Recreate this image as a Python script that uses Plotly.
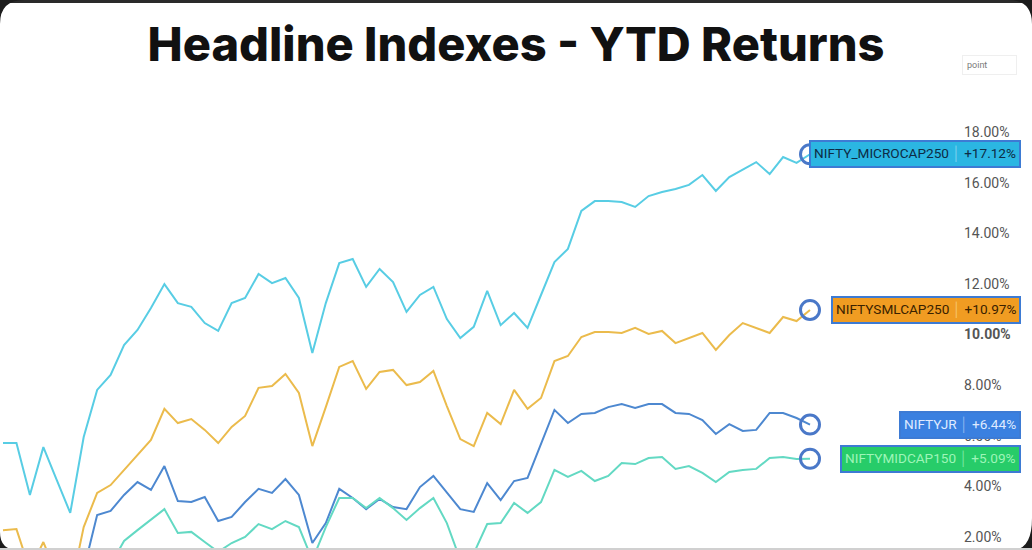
import plotly.graph_objects as go

# ---------------- data (YTD return, %) ----------------
series_names = ["NIFTY_MICROCAP250", "NIFTYSMLCAP250", "NIFTYJR", "NIFTYMIDCAP150"]

microcap = [5.71, 5.71, 3.66, 5.55, 4.25, 2.95, 5.95, 7.81, 8.40, 9.58,
            10.18, 11.05, 11.99, 11.24, 11.09, 10.45, 10.14, 11.24, 11.44, 12.39,
            12.03, 12.23, 11.44, 9.27, 11.24, 12.82, 12.98, 11.88, 12.59, 12.07,
            10.89, 11.56, 11.88, 10.61, 9.86, 10.30, 11.72, 10.37, 10.85, 10.26,
            11.56, 12.86, 13.38, 14.88, 15.27, 15.27, 15.23, 15.04, 15.47, 15.63,
            15.75, 15.91, 16.30, 15.67, 16.22, 16.50, 16.81, 16.34, 17.01, 16.78,
            17.12]

smallcap = [2.27, 2.31, 0.69, 1.80, 0.50, -0.14, 2.39, 3.74, 4.05, 4.65,
            5.24, 5.83, 7.06, 6.50, 6.66, 6.23, 5.71, 6.35, 6.78, 7.89,
            7.96, 8.44, 7.69, 5.59, 7.13, 8.72, 8.95, 7.85, 8.52, 8.60,
            8.00, 8.12, 8.56, 7.17, 5.87, 5.59, 6.90, 6.46, 7.81, 7.06,
            7.49, 8.95, 9.15, 9.90, 10.10, 10.10, 10.06, 10.26, 10.02, 10.14,
            9.66, 9.86, 10.06, 9.39, 9.98, 10.45, 10.26, 10.06, 10.69, 10.53,
            10.97]

niftyjr = [0.90, 0.80, 0.20, 0.60, 0.40, -0.30, 0.70, 2.87, 3.03, 3.66,
           4.17, 3.86, 4.80, 3.42, 3.38, 3.58, 2.63, 2.79, 3.38, 3.90,
           3.74, 4.29, 3.66, 1.76, 2.55, 3.90, 3.54, 3.10, 3.50, 3.18,
           3.10, 3.97, 4.41, 3.74, 3.10, 2.99, 4.13, 3.46, 4.21, 4.33,
           5.71, 7.02, 6.50, 6.86, 6.90, 7.13, 7.25, 7.10, 7.25, 7.25,
           6.90, 6.86, 6.62, 6.07, 6.46, 6.19, 6.23, 6.90, 6.90, 6.70,
           6.44]

midcap = [0.30, 0.20, -0.40, 0.10, -0.20, -0.90, 0.00, 0.50, 0.90, 1.84,
          2.27, 2.67, 3.10, 2.16, 2.20, 1.80, 1.41, 1.76, 2.00, 2.51,
          2.31, 2.63, 2.39, 1.09, 2.39, 3.54, 3.54, 3.14, 3.54, 3.14,
          2.67, 3.14, 3.54, 2.55, 1.09, 1.35, 2.51, 2.55, 3.34, 2.95,
          3.38, 4.65, 4.37, 4.61, 4.21, 4.41, 4.92, 4.88, 5.12, 5.16,
          4.69, 4.80, 4.53, 4.17, 4.57, 4.65, 4.69, 5.12, 5.16, 5.08,
          5.09]

tick_vals = [2, 4, 6, 8, 10, 12, 14, 16, 18]
tick_text = ["2.00%", "4.00%", "6.00%", "8.00%", "<b>10.00%</b>",
             "12.00%", "14.00%", "16.00%", "18.00%"]

# ---------------- style ----------------
all_series = [microcap, smallcap, niftyjr, midcap]
line_colors = ["#58cde4", "#ebbb4c", "#4d88d0", "#63d9c3"]
label_bg = ["#2bb6e2", "#f09c22", "#3a80e0", "#27cc69"]
label_fg = ["#0d2b45", "#3a2200", "#dfeaff", "#9ef5b8"]
sep_fg = ["#7fd3ef", "#f7c670", "#8db6ef", "#79e6a3"]
frame_col = "#3d7bd4"

W, H = 1032, 550
L, R, T, B = 0, 69, 100, 0
PW, PH = W - L - R, H - T - B
STEP = 13.45      # px between consecutive sessions
X0 = 3.0          # px position of first session


def px(x):
    return (x - L) / PW


def py(y):
    return (H - B - y) / PH


n = len(microcap)
xs = list(range(n))

fig = go.Figure()
for vals, name, col in zip(all_series, series_names, line_colors):
    fig.add_trace(go.Scatter(x=xs, y=vals, mode="lines", name=name,
                             line=dict(color=col, width=2), showlegend=False,
                             hoverinfo="skip"))

# end-point circles
fig.add_trace(go.Scatter(
    x=[xs[-1]] * len(all_series), y=[s[-1] for s in all_series], mode="markers",
    marker=dict(symbol="circle-open", size=19, line=dict(width=3, color="#4a78c8"),
                color="#4a78c8"),
    showlegend=False, hoverinfo="skip", cliponaxis=False))

# end labels
for vals, name, bg, fg, sc in zip(all_series, series_names, label_bg, label_fg, sep_fg):
    txt = f"{name} <span style='color:{sc}'>│</span> {vals[-1]:+.2f}%"
    fig.add_annotation(x=px(1021), xref="paper", y=vals[-1], yref="y",
                       xanchor="right", yanchor="middle", text=txt, showarrow=False,
                       font=dict(family="Roboto, Liberation Sans, sans-serif", size=13.6, color=fg),
                       bgcolor=bg, bordercolor=frame_col, borderwidth=2, borderpad=3)

# "point" box
fig.add_annotation(x=px(962), xref="paper", y=py(65), yref="paper", xanchor="left",
                   yanchor="middle", text="point           ", showarrow=False,
                   font=dict(family="Roboto, sans-serif", size=9, color="#7a7a7a"),
                   bgcolor="white", bordercolor="#efefef", borderwidth=1, borderpad=4,
                   align="left")

# screenshot frame: dark top edge and rounded corners
shapes = []
shapes.append(dict(type="rect", xref="paper", yref="paper", x0=px(0), x1=px(W),
                   y0=py(0), y1=py(3), fillcolor="#2a2a2a", line=dict(width=0), layer="above"))
r = 24
corner_paths = [
    [(0, 0), (r, 0), (0, 0), (0, r)],                # top-left
    [(W, 0), (W - r, 0), (W, 0), (W, r)],            # top-right
    [(0, H), (0, H - 18), (0, H), (18, H)],          # bottom-left
    [(W, H), (W, H - 32), (W, H), (W - 20, H)],      # bottom-right
]
for (a, b, c, d) in corner_paths:
    path = (f"M {px(a[0])},{py(a[1])} L {px(b[0])},{py(b[1])} "
            f"Q {px(c[0])},{py(c[1])} {px(d[0])},{py(d[1])} Z")
    shapes.append(dict(type="path", xref="paper", yref="paper", path=path,
                       fillcolor="#1c1c1c", line=dict(width=0), layer="above"))
shapes.append(dict(type="rect", xref="paper", yref="paper", x0=px(0), x1=px(W),
                   y0=py(550), y1=py(548), fillcolor="#d0d0d0", line=dict(width=0), layer="above"))

x_lo = -X0 / STEP
x_hi = x_lo + PW / STEP
y_hi = 18 + (132 - T) / 25.31
y_lo = 18 - (H - B - 132) / 25.31

fig.update_layout(
    width=W, height=H,
    margin=dict(l=L, r=R, t=T, b=B, autoexpand=False),
    paper_bgcolor="white", plot_bgcolor="white",
    title=dict(text="Headline Indexes - YTD Returns", x=0.5, xref="container",
               xanchor="center", y=1 - 45 / H, yref="container", yanchor="middle",
               font=dict(family="Inter, Roboto, sans-serif", size=47, color="#111111",
                         weight=800)),
    xaxis=dict(range=[x_lo, x_hi], visible=False, showgrid=False, zeroline=False,
               fixedrange=True),
    yaxis=dict(range=[y_lo, y_hi], side="right", tickvals=tick_vals, ticktext=tick_text,
               showgrid=False, zeroline=False, showline=False, ticks="",
               tickfont=dict(family="Roboto, Liberation Sans, sans-serif", size=14,
                             color="#555555")),
    shapes=shapes,
    showlegend=False,
)

fig.write_html("out.html", config={"displayModeBar": False},
               post_script="document.body.style.margin='0';document.body.style.padding='0';")
